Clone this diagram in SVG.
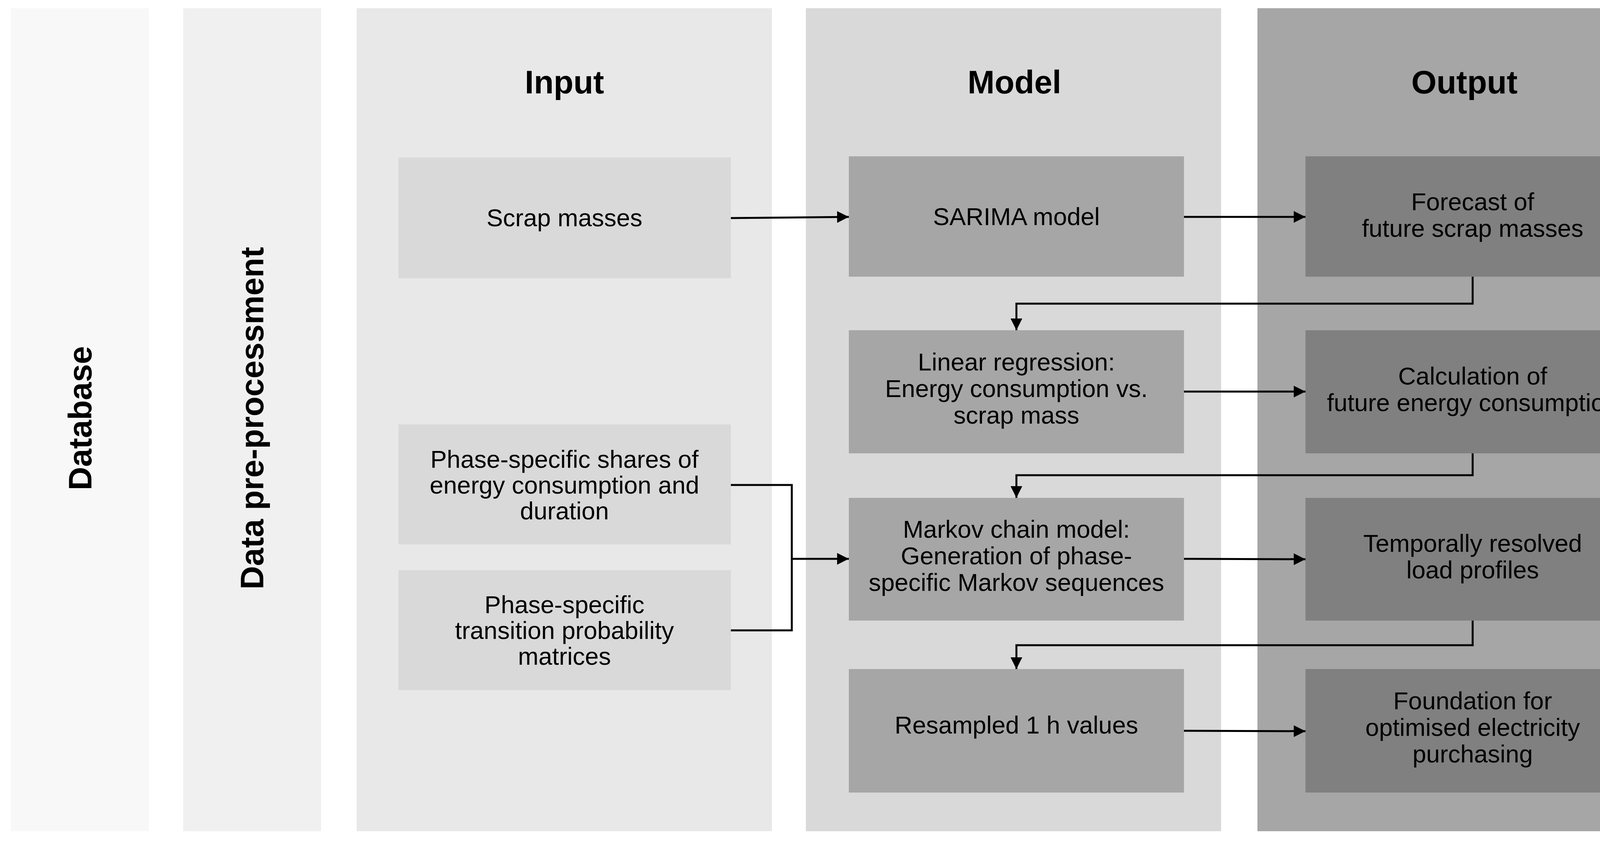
<svg xmlns="http://www.w3.org/2000/svg" width="4301" height="2152" viewBox="0 0 4301 2152">
<defs>
<style>
.t{font-family:"Liberation Sans",Arial,sans-serif;font-size:63px;fill:#000;text-anchor:middle}
.h{font-family:"Liberation Sans",Arial,sans-serif;font-size:83px;font-weight:bold;fill:#000;text-anchor:middle}
.c{fill:none;stroke:#000;stroke-width:5}
.ib{fill:#d9d9d9}.mb{fill:#a6a6a6}.ob{fill:#808080}
</style>
<marker id="a" viewBox="0 0 10 10" refX="10" refY="5" markerWidth="6" markerHeight="6" markerUnits="strokeWidth" orient="auto"><path d="M0,0L10,5L0,10z" fill="#000"/></marker>
</defs>
<rect width="4301" height="2152" fill="#fff"/>
<g id="col-database"><rect x="28" y="21" width="353" height="2106" fill="#f8f8f8"/><text class="h" transform="translate(234,1070) rotate(-90)">Database</text></g>
<g id="col-preproc"><rect x="469" y="21" width="353" height="2106" fill="#f0f0f0"/><text class="h" transform="translate(674,1070) rotate(-90)">Data pre-processment</text></g>
<g id="col-input"><rect x="913" y="21" width="1063" height="2106" fill="#e8e8e8"/><text class="h" x="1445" y="239">Input</text></g>
<g id="col-model"><rect x="2063" y="21" width="1063" height="2106" fill="#d9d9d9"/><text class="h" x="2597" y="239">Model</text></g>
<g id="col-output"><rect x="3219" y="21" width="1061" height="2106" fill="#a6a6a6"/><text class="h" x="3749" y="239">Output</text></g>

<g id="n-scrap"><rect class="ib" x="1020" y="403" width="851" height="309"/><text class="t" x="1445" y="579">Scrap masses</text></g>
<g id="n-shares"><rect class="ib" x="1020" y="1086" width="851" height="307"/><text class="t" x="1445" y="1197">Phase-specific shares of</text><text class="t" x="1445" y="1263">energy consumption and</text><text class="t" x="1445" y="1329">duration</text></g>
<g id="n-matrices"><rect class="ib" x="1020" y="1459" width="851" height="307"/><text class="t" x="1445" y="1569">Phase-specific</text><text class="t" x="1445" y="1635">transition probability</text><text class="t" x="1445" y="1701">matrices</text></g>

<g id="n-sarima"><rect class="mb" x="2173" y="400" width="858" height="308"/><text class="t" x="2602" y="576">SARIMA model</text></g>
<g id="n-linear"><rect class="mb" x="2173" y="845" width="858" height="315"/><text class="t" x="2602" y="948">Linear regression:</text><text class="t" x="2602" y="1016">Energy consumption vs.</text><text class="t" x="2602" y="1084">scrap mass</text></g>
<g id="n-markov"><rect class="mb" x="2173" y="1274" width="858" height="314"/><text class="t" x="2602" y="1376">Markov chain model:</text><text class="t" x="2602" y="1444">Generation of phase-</text><text class="t" x="2602" y="1512">specific Markov sequences</text></g>
<g id="n-resampled"><rect class="mb" x="2173" y="1712" width="858" height="316"/><text class="t" x="2602" y="1877">Resampled 1 h values</text></g>

<g id="n-forecast"><rect class="ob" x="3342" y="400" width="857" height="308"/><text class="t" x="3770" y="538">Forecast of</text><text class="t" x="3770" y="606">future scrap masses</text></g>
<g id="n-calc"><rect class="ob" x="3342" y="845" width="857" height="315"/><text class="t" x="3770" y="984">Calculation of</text><text class="t" x="3770" y="1052">future energy consumption</text></g>
<g id="n-temporal"><rect class="ob" x="3342" y="1274" width="857" height="314"/><text class="t" x="3770" y="1412">Temporally resolved</text><text class="t" x="3770" y="1480">load profiles</text></g>
<g id="n-foundation"><rect class="ob" x="3342" y="1712" width="857" height="316"/><text class="t" x="3770" y="1815">Foundation for</text><text class="t" x="3770" y="1883">optimised electricity</text><text class="t" x="3770" y="1951">purchasing</text></g>

<g id="connectors">
<path class="c" d="M1871,558L2173,555" marker-end="url(#a)"/>
<path class="c" d="M3031,555L3342,555" marker-end="url(#a)"/>
<path class="c" d="M3770,708V777H2602V845" marker-end="url(#a)"/>
<path class="c" d="M3031,1002H3342" marker-end="url(#a)"/>
<path class="c" d="M3770,1160V1216H2602V1274" marker-end="url(#a)"/>
<path class="c" d="M3031,1430L3342,1431" marker-end="url(#a)"/>
<path class="c" d="M3770,1588V1651H2602V1712" marker-end="url(#a)"/>
<path class="c" d="M3031,1870L3342,1871" marker-end="url(#a)"/>
<path class="c" d="M1871,1241H2027V1613H1871"/>
<path class="c" d="M2027,1430H2173" marker-end="url(#a)"/>
</g>
</svg>
